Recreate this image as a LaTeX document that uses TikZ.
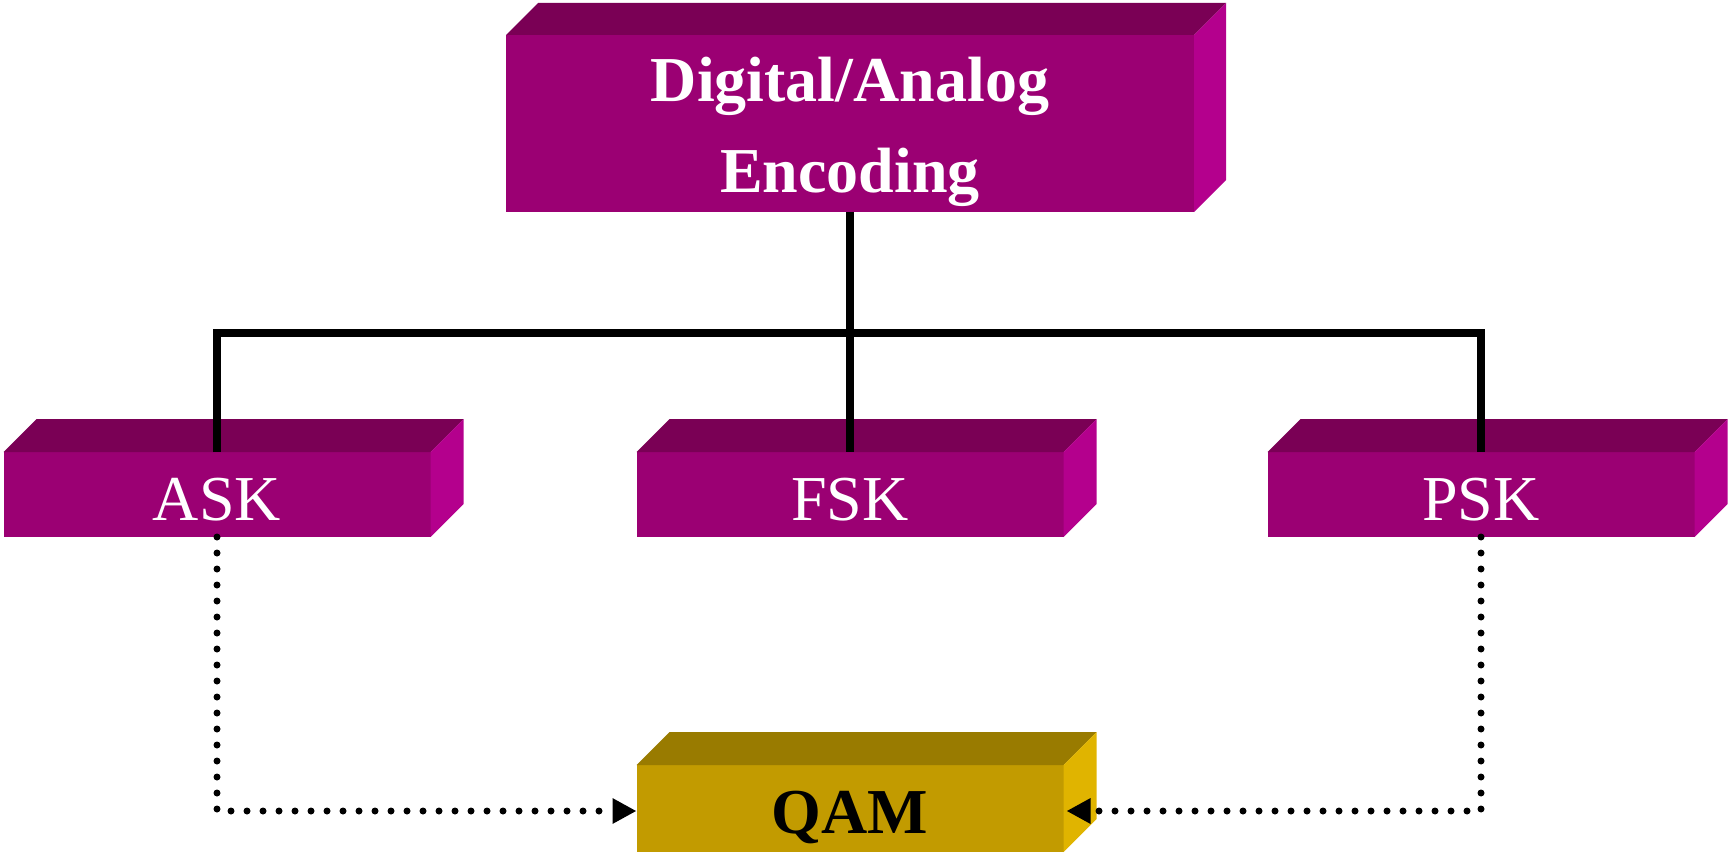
\documentclass[tikz,border=0pt]{standalone}
\usepackage{fontspec}
\setmainfont{Liberation Serif}
\usetikzlibrary{arrows.meta}

\definecolor{plumFront}{RGB}{155,0,115}
\definecolor{plumTop}{RGB}{122,0,85}
\definecolor{plumSide}{RGB}{180,0,141}
\definecolor{goldFront}{RGB}{194,155,0}
\definecolor{goldTop}{RGB}{153,123,0}
\definecolor{goldSide}{RGB}{224,180,0}

% top and right faces of a bevelled slab, built on the front-face node #1
\newcommand\slabfaces[4]{%
  \fill[#2] (#1.north west) -- ++(#4,-#4) -- ([shift={(#4,-#4)}]#1.north east) -- (#1.north east) -- cycle;
  \fill[#3] (#1.north east) -- ++(#4,-#4) -- ([shift={(#4,-#4)}]#1.south east) -- (#1.south east) -- cycle;
}

\tikzset{
  front/.style={rectangle, inner sep=0pt, outer sep=0pt, draw=none},
  plumface/.style={front, fill=plumFront},
  goldface/.style={front, fill=goldFront},
  bigtext/.style={font=\fontsize{64}{64}\selectfont, inner sep=0pt, anchor=base},
  tree/.style={line width=8pt, line join=miter, draw=black},
  dots/.style={line width=7pt, line cap=round, dash pattern=on 0pt off 16pt,
    -{Triangle[length=24pt,width=24pt]}}
}

\begin{document}
\begin{tikzpicture}[x=1pt, y=-1pt]
  \useasboundingbox (0,0) rectangle (1729,853);

  % slabs (front faces as nodes)
  \node[plumface, minimum width=688pt, minimum height=177pt] (top) at (850,123.5) {};
  \slabfaces{top}{plumTop}{plumSide}{32}
  \node[plumface, minimum width=427pt, minimum height=85pt] (ask) at (217,494.5) {};
  \slabfaces{ask}{plumTop}{plumSide}{33}
  \node[plumface, minimum width=427pt, minimum height=85pt] (fsk) at (850,494.5) {};
  \slabfaces{fsk}{plumTop}{plumSide}{33}
  \node[plumface, minimum width=427pt, minimum height=85pt] (psk) at (1481,494.5) {};
  \slabfaces{psk}{plumTop}{plumSide}{33}
  \node[goldface, minimum width=427pt, minimum height=87pt] (qam) at (850,808.5) {};
  \slabfaces{qam}{goldTop}{goldSide}{33}

  % labels
  \node[bigtext, text=white, font=\fontsize{64}{64}\selectfont\bfseries] (titleA) at (850,102) {Digital/Analog};
  \node[bigtext, text=white, font=\fontsize{64}{64}\selectfont\bfseries] (titleB) at (850,193) {Encoding};
  \node[bigtext, text=white] (askL) at (217,520) {ASK};
  \node[bigtext, text=white] (fskL) at (850,520) {FSK};
  \node[bigtext, text=white] (pskL) at (1481,520) {PSK};
  \node[bigtext, text=black, font=\fontsize{64}{64}\selectfont\bfseries] (qamL) at (850,833) {QAM};

  % hierarchy connectors
  \coordinate (bus) at (850,333);
  \draw[tree] (top.south) -- (fsk.north);
  \draw[tree] (ask.north) |- (bus) -| (psk.north);

  % combination into QAM
  \draw[dots] (ask.south) |- ([yshift=-2.5pt]qam.west);
  \draw[dots] (psk.south) |- ([xshift=3pt,yshift=-2.5pt]qam.east);
\end{tikzpicture}
\end{document}
